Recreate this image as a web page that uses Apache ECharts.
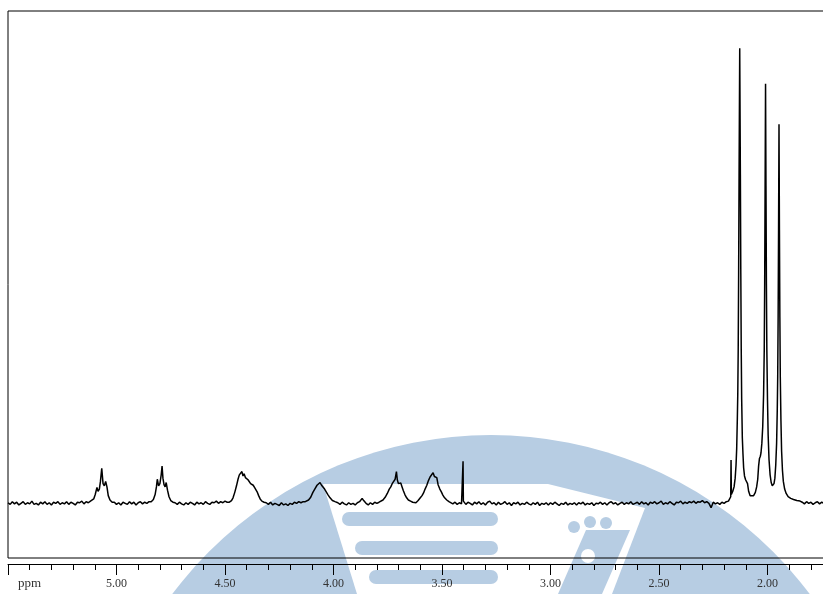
<!DOCTYPE html>
<html>
<head>
<meta charset="utf-8">
<script src="https://cdn.jsdelivr.net/npm/echarts@6/dist/echarts.min.js"></script>
<style>
  html, body { margin: 0; padding: 0; background: #fff; overflow: hidden; }
  #chart { width: 880px; height: 594px; }
</style>
</head>
<body>
<div id="chart"></div>
<script>
// 1H NMR trace, chemical shift in ppm vs. relative intensity.
// Each list holds [ppm, intensity] pairs.

const baseline_550_512 = [
  [5.50,0.1],[5.49,-0.2],[5.48,0.3],[5.47,-0.1],[5.46,0.2],[5.45,-0.3],[5.44,0.0],[5.43,0.3],[5.42,-0.2],[5.41,0.1],
  [5.40,-0.1],[5.39,0.4],[5.38,-0.2],[5.37,0.0],[5.36,-0.3],[5.35,0.2],[5.34,-0.1],[5.33,0.3],[5.32,-0.2],[5.31,0.1],
  [5.30,-0.3],[5.29,0.2],[5.28,0.0],[5.27,0.3],[5.26,-0.2],[5.25,0.1],[5.24,-0.1],[5.23,0.3],[5.22,-0.2],[5.21,0.2],
  [5.20,0.0],[5.19,-0.3],[5.18,0.2],[5.17,0.1],[5.16,0.4],[5.15,-0.1],[5.14,0.3],[5.13,0.1],[5.12,0.4]
];

const multiplet_507 = [
  [5.115,0.3],[5.105,0.8],[5.098,1.6],[5.090,2.9],[5.085,2.2],[5.079,2.6],[5.074,4.0],[5.068,6.4],
  [5.062,3.6],[5.056,3.2],[5.050,4.0],[5.044,3.0],[5.038,1.4],[5.030,0.6],[5.020,0.2]
];

const baseline_501_485 = [
  [5.01,0.2],[5.00,-0.2],[4.99,0.1],[4.98,-0.3],[4.97,0.2],[4.96,0.0],[4.95,-0.2],[4.94,0.3],[4.93,-0.1],
  [4.92,0.2],[4.91,-0.3],[4.90,0.1],[4.89,0.3],[4.88,-0.1],[4.87,0.2],[4.86,0.0],[4.85,0.3]
];

const multiplet_479 = [
  [4.840,0.3],[4.830,0.7],[4.822,1.6],[4.816,3.0],[4.812,4.4],[4.806,3.2],[4.800,3.6],[4.794,5.2],[4.790,6.8],
  [4.786,4.6],[4.781,3.4],[4.776,3.0],[4.771,3.8],[4.765,2.4],[4.758,1.2],[4.750,0.5],[4.740,0.2]
];

const baseline_473_449 = [
  [4.73,0.1],[4.72,-0.2],[4.71,0.2],[4.70,-0.1],[4.69,-0.3],[4.68,0.1],[4.67,-0.2],[4.66,0.2],[4.65,0.0],
  [4.64,-0.3],[4.63,0.2],[4.62,-0.1],[4.61,0.1],[4.60,-0.2],[4.59,0.3],[4.58,0.0],[4.57,-0.2],[4.56,0.2],
  [4.55,0.1],[4.54,0.4],[4.53,0.0],[4.52,0.3],[4.51,0.1],[4.50,0.4],[4.49,0.2]
];

const multiplet_442 = [
  [4.480,0.2],[4.470,0.5],[4.463,1.0],[4.455,2.0],[4.447,3.2],[4.440,4.4],[4.434,5.2],[4.428,4.9],[4.422,5.8],
  [4.417,5.0],[4.412,5.4],[4.406,4.7],[4.400,4.9],[4.394,4.3],[4.388,4.0],[4.382,3.6],[4.376,3.8],[4.370,3.3],
  [4.364,2.9],[4.358,2.6],[4.352,2.1],[4.345,1.4],[4.338,0.8],[4.330,0.4],[4.320,0.2]
];

const baseline_431_414 = [
  [4.31,0.1],[4.30,-0.2],[4.29,0.2],[4.28,-0.3],[4.27,0.0],[4.26,-0.2],[4.25,-0.4],[4.24,0.1],[4.23,-0.3],
  [4.22,-0.1],[4.21,-0.4],[4.20,0.0],[4.19,-0.2],[4.18,0.2],[4.17,0.0],[4.16,0.3],[4.15,0.1],[4.14,0.3]
];

const multiplet_406 = [
  [4.130,0.3],[4.115,0.6],[4.105,1.1],[4.095,2.0],[4.085,2.7],[4.076,3.3],[4.068,3.5],[4.062,3.8],
  [4.055,3.3],[4.048,3.0],[4.041,2.6],[4.035,2.3],[4.026,1.6],[4.016,1.0],[4.005,0.5],[3.993,0.3]
];

const baseline_398_379 = [
  [3.98,0.1],[3.97,-0.2],[3.96,0.2],[3.95,-0.1],[3.94,-0.3],[3.93,0.1],[3.92,-0.2],[3.91,0.0],[3.90,-0.3],
  [3.89,0.1],[3.88,0.3],[3.875,0.6],[3.868,0.9],[3.861,0.5],[3.85,0.0],[3.84,-0.3],[3.83,0.1],[3.82,-0.2],
  [3.81,0.2],[3.80,0.0],[3.79,0.2]
];

const multiplet_371 = [
  [3.785,0.3],[3.772,0.6],[3.762,1.1],[3.752,1.8],[3.743,2.6],[3.736,3.0],[3.728,3.7],[3.722,3.4],[3.716,4.4],
  [3.710,5.8],[3.706,4.3],[3.701,3.6],[3.695,3.4],[3.690,3.7],[3.684,3.0],[3.678,2.3],[3.671,1.6],[3.663,1.0],
  [3.655,0.6],[3.645,0.4],[3.635,0.2],[3.628,0.0]
];

const multiplet_354 = [
  [3.620,0.1],[3.610,0.5],[3.600,1.0],[3.592,1.4],[3.585,1.9],[3.578,2.6],[3.570,3.3],[3.562,4.2],[3.555,4.8],
  [3.548,5.1],[3.541,5.6],[3.535,4.9],[3.530,5.1],[3.524,4.7],[3.518,3.4],[3.510,2.6],[3.503,2.1],[3.496,1.5],
  [3.488,1.0],[3.478,0.6],[3.468,0.3]
];

const baseline_346_218 = [
  [3.46,0.2],[3.45,-0.1],[3.44,0.2],[3.43,-0.2],[3.42,0.1],[3.41,-0.1],
  [3.4045,0.2],[3.403,7.7],[3.4015,0.4],
  [3.40,0.3],[3.39,-0.2],[3.38,0.2],[3.37,0.0],[3.36,-0.3],[3.35,0.2],[3.34,-0.1],[3.33,0.3],[3.32,-0.2],
  [3.31,0.1],[3.30,-0.3],[3.29,0.2],[3.28,0.4],[3.27,-0.1],[3.26,0.1],[3.25,-0.3],[3.24,0.2],[3.23,-0.2],
  [3.22,0.0],[3.21,0.3],[3.20,-0.2],[3.19,0.1],[3.18,-0.4],[3.17,0.1],[3.16,-0.1],[3.15,0.2],[3.14,-0.3],
  [3.13,0.0],[3.12,-0.2],[3.11,0.2],[3.10,-0.1],[3.09,-0.3],[3.08,0.1],[3.07,-0.2],[3.06,0.2],[3.05,-0.4],
  [3.04,0.0],[3.03,-0.2],[3.02,0.1],[3.01,-0.3],[3.00,0.1],[2.99,-0.2],[2.98,0.2],[2.97,-0.1],[2.96,-0.4],
  [2.95,0.0],[2.94,-0.2],[2.93,0.2],[2.92,-0.3],[2.91,0.0],[2.90,-0.2],[2.89,0.1],[2.88,-0.3],[2.87,0.1],
  [2.86,-0.1],[2.85,0.2],[2.84,-0.3],[2.83,0.0],[2.82,-0.2],[2.81,0.1],[2.80,-0.4],[2.79,0.0],[2.78,-0.1],
  [2.77,0.2],[2.76,-0.2],[2.75,0.1],[2.74,-0.3],[2.73,0.1],[2.72,0.3],[2.71,-0.1],[2.70,0.1],[2.69,-0.3],
  [2.68,0.0],[2.67,0.2],[2.66,-0.2],[2.65,0.1],[2.64,-0.1],[2.63,0.3],[2.62,-0.2],[2.61,0.0],[2.60,0.2],
  [2.59,-0.2],[2.58,0.3],[2.57,-0.1],[2.56,0.1],[2.55,-0.3],[2.54,0.2],[2.53,0.0],[2.52,0.3],[2.51,-0.1],
  [2.50,0.1],[2.49,0.4],[2.48,-0.2],[2.47,0.1],[2.46,-0.1],[2.45,0.3],[2.44,0.0],[2.43,-0.3],[2.42,0.2],
  [2.41,0.1],[2.40,0.4],[2.39,-0.1],[2.38,0.2],[2.37,0.0],[2.36,0.3],[2.35,0.1],[2.34,0.4],[2.33,0.0],
  [2.32,0.3],[2.31,0.2],[2.30,0.5],[2.29,0.1],[2.28,0.3],[2.27,0.0],[2.26,-0.8],[2.25,0.2],[2.24,-0.1],
  [2.23,0.1],[2.22,-0.2],[2.21,0.2],[2.20,0.0],[2.19,0.3],[2.18,0.4]
];

const singlets_213_195 = [
  [2.176,0.5],[2.172,0.7],[2.1695,1.2],[2.168,7.9],[2.1665,1.6],[2.163,1.8],
  [2.160,2.2],[2.154,3.0],[2.149,4.6],[2.145,7.0],[2.142,10.0],[2.139,15.5],[2.137,20],[2.135,28],[2.133,42],
  [2.131,60],[2.128,83.2],[2.125,60],[2.123,42],[2.121,28],[2.119,19],[2.116,12],[2.113,9.0],[2.110,6.5],
  [2.106,5.0],[2.101,4.3],[2.096,4.6],[2.092,3.6],[2.087,2.2],[2.080,1.4],[2.072,1.1],
  [2.064,1.4],[2.056,2.0],[2.050,3.0],[2.045,4.4],[2.041,6.8],[2.037,8.2],[2.033,8.6],[2.030,9.2],[2.026,11],
  [2.022,14],[2.018,20],[2.015,28],[2.013,40],[2.011,58],[2.009,76.7],[2.007,58],[2.005,40],[2.003,28],
  [2.000,18.9],[1.997,12.5],[1.993,8.0],[1.988,5.2],[1.983,3.8],[1.978,3.2],[1.974,3.1],
  [1.970,3.6],[1.966,4.6],[1.962,7.0],[1.958,11],[1.955,17],[1.953,23],[1.951,34],[1.949,50],[1.947,69.3],
  [1.945,50],[1.943,34],[1.941,23],[1.938,15],[1.935,9.5],[1.931,6.0],[1.927,4.0],[1.921,2.6],[1.914,1.8],
  [1.905,1.2],[1.893,0.9],[1.880,0.7],[1.865,0.5],[1.850,0.4]
];

const baseline_184_150 = [
  [1.84,0.2],[1.83,-0.1],[1.82,0.3],[1.81,0.0],[1.80,0.2],[1.79,-0.2],[1.78,0.1],[1.77,0.3],[1.76,-0.1],
  [1.75,0.2],[1.74,0.0],[1.70,0.1],[1.60,0.0],[1.50,0.0]
];

// Axis range and tick labels
const ppmLow = 1.5;
const ppmHigh = 5.5;
const majorStep = 0.5;
const tickLabels = ['5.00', '4.50', '4.00', '3.50', '3.00', '2.50', '2.00'];

const spectrum = [].concat(
  baseline_550_512, multiplet_507, baseline_501_485, multiplet_479, baseline_473_449,
  multiplet_442, baseline_431_414, multiplet_406, baseline_398_379, multiplet_371,
  multiplet_354, baseline_346_218, singlets_213_195, baseline_184_150
).sort((a, b) => b[0] - a[0]);

const chart = echarts.init(document.getElementById('chart'), null, { renderer: 'canvas' });

const wmBlue = '#b7cde3';

chart.setOption({
  animation: false,
  backgroundColor: '#fff',
  grid: {
    show: true, left: 8, right: 4, top: 11, bottom: 36,
    borderColor: '#000', borderWidth: 1, backgroundColor: 'transparent'
  },
  xAxis: {
    type: 'value', min: ppmLow, max: ppmHigh, interval: majorStep, inverse: true,
    position: 'bottom', offset: 6,
    axisLine: { show: true, onZero: false, lineStyle: { color: '#000', width: 1 } },
    axisTick: { show: true, length: 11, lineStyle: { color: '#000', width: 1 } },
    minorTick: { show: true, splitNumber: 5, length: 6, lineStyle: { color: '#000', width: 1 } },
    splitLine: { show: false },
    axisLabel: {
      margin: 14, color: '#333', fontFamily: 'Liberation Serif', fontSize: 12,
      formatter: v => {
        const s = v.toFixed(2);
        return tickLabels.indexOf(s) >= 0 ? s : '';
      }
    }
  },
  yAxis: { type: 'value', min: -10, max: 90, show: false },
  graphic: [
    // faint emblem behind the trace
    { type: 'circle', z: -10, silent: true, shape: { cx: 491, cy: 834, r: 399 }, style: { fill: wmBlue } },
    { type: 'polygon', z: -9, silent: true,
      shape: { points: [[323, 484], [548, 484], [645, 508], [612, 594], [357, 594]] }, style: { fill: '#fff' } },
    { type: 'rect', z: -8, silent: true, shape: { x: 342, y: 512, width: 156, height: 14, r: 7 }, style: { fill: wmBlue } },
    { type: 'rect', z: -8, silent: true, shape: { x: 355, y: 541, width: 143, height: 14, r: 7 }, style: { fill: wmBlue } },
    { type: 'rect', z: -8, silent: true, shape: { x: 369, y: 570, width: 129, height: 14, r: 7 }, style: { fill: wmBlue } },
    { type: 'polygon', z: -8, silent: true,
      shape: { points: [[558, 594], [586, 530], [630, 530], [602, 594]] }, style: { fill: wmBlue } },
    { type: 'circle', z: -8, silent: true, shape: { cx: 574, cy: 527, r: 6 }, style: { fill: wmBlue } },
    { type: 'circle', z: -8, silent: true, shape: { cx: 590, cy: 522, r: 6 }, style: { fill: wmBlue } },
    { type: 'circle', z: -8, silent: true, shape: { cx: 606, cy: 523, r: 6 }, style: { fill: wmBlue } },
    { type: 'circle', z: -7, silent: true, shape: { cx: 588, cy: 556, r: 7 }, style: { fill: '#fff' } },
    { type: 'text', z: 5, left: 18, top: 577,
      style: { text: 'ppm', fontFamily: 'Liberation Serif', fontSize: 13, fill: '#333' } }
  ],
  series: [{
    type: 'line',
    data: spectrum,
    showSymbol: false,
    symbol: 'none',
    z: 3,
    lineStyle: { color: '#000', width: 1.5 },
    emphasis: { disabled: true }
  }]
});
</script>
</body>
</html>
